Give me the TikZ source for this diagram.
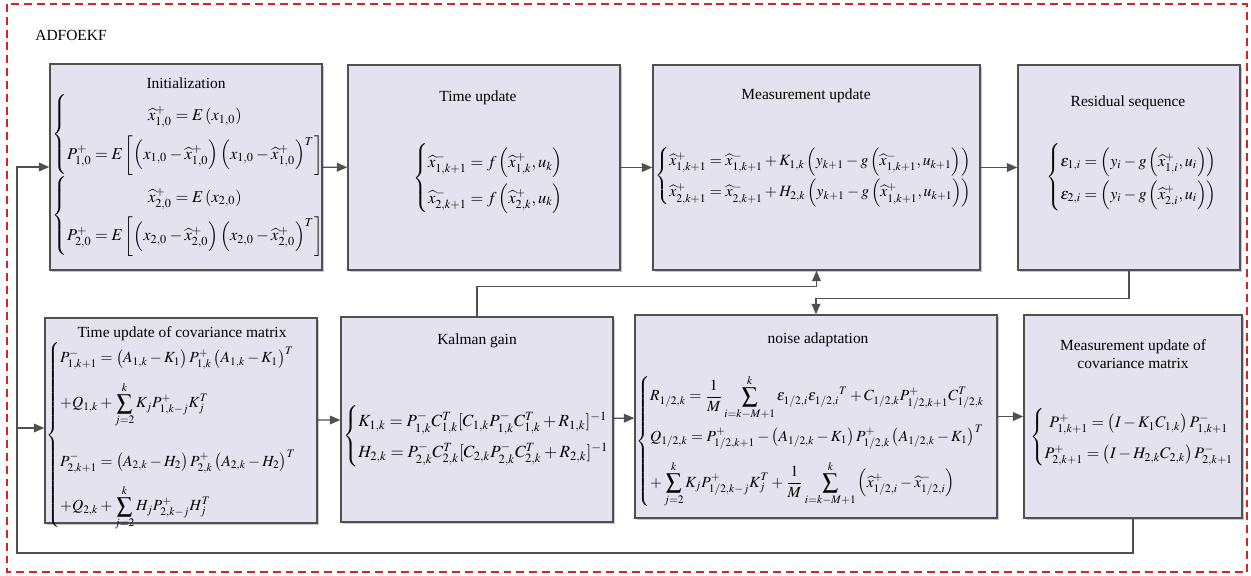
\documentclass[tikz,border=0pt]{standalone}
\usepackage{amsmath}
\usepackage{mathptmx}
\usepackage{fontspec}
\setmainfont{Liberation Serif}
\newfontfamily\boxfont{Liberation Serif}
\usetikzlibrary{arrows.meta, shadows, calc}
\definecolor{boxfill}{RGB}{228,226,238}
\definecolor{boxline}{RGB}{80,80,80}
\definecolor{framered}{RGB}{212,36,36}

\begin{document}
\begin{tikzpicture}[x=0.02cm, y=-0.02cm, font=\boxfont\fontsize{8.8}{10.5}\selectfont,
  >={Triangle[length=6pt, width=5pt]},
  block/.style={draw=boxline, fill=boxfill, line width=0.8pt, inner sep=0pt,
                drop shadow={shadow xshift=1.3pt, shadow yshift=-1.3pt, fill=black!22, opacity=1}},
  title/.style={inner sep=0pt, align=center},
  eqn/.style={inner sep=0pt, anchor=west, font=\fontsize{#1}{11}\selectfont},
  eqn/.default=8.8,
  link/.style={->, draw=boxline, line width=0.8pt}]
  \useasboundingbox (0,0) rectangle (1251,575);
  \draw[framered, line width=1.1pt, dash pattern=on 4.5pt off 2.8pt] (7,4) rectangle (1247,572);
  \node[inner sep=0pt, anchor=west] (name) at (35,35) {ADFOEKF};

  % top row
  \node[block, minimum width=5.44cm, minimum height=4.12cm] (init) at (186,167) {};
  \node[block, minimum width=5.44cm, minimum height=4.1cm] (tupd) at (484,167.5) {};
  \node[block, minimum width=6.54cm, minimum height=4.1cm] (mupd) at (816.5,167.5) {};
  \node[block, minimum width=4.44cm, minimum height=4.1cm] (resid) at (1129,167.5) {};
  % bottom row
  \node[block, minimum width=5.44cm, minimum height=4.1cm] (tcov) at (181,420.5) {};
  \node[block, minimum width=5.44cm, minimum height=4.1cm] (gain) at (477,419.5) {};
  \node[block, minimum width=7.24cm, minimum height=4.06cm] (noise) at (816,416.5) {};
  \node[block, minimum width=4.36cm, minimum height=4.06cm] (mcov) at (1133,416.5) {};

  \node[title] (init-t) at (186,83) {Initialization};
  \node[title] (tupd-t) at (478,98) {Time update};
  \node[title] (mupd-t) at (806,96) {Measurement update};
  \node[title] (resid-t) at (1128,103) {Residual sequence};
  \node[title] (tcov-t) at (182,334) {Time update of covariance matrix};
  \node[title] (gain-t) at (477,341) {Kalman gain};
  \node[title] (noise-t) at (818,340) {noise adaptation};
  \node[title] (mcov-t) at (1133,354) {Measurement update of\\covariance matrix};

  \node[eqn=9.4] (init-e) at (52,175) {$\renewcommand{\arraystretch}{2.0}\begin{array}{@{}l@{}}
    \left\{\begin{array}{@{}c@{}}
      \widehat{x}^{+}_{1,0}=E\left(x_{1,0}\right)\\
      P^{+}_{1,0}=E\left[\left(x_{1,0}-\widehat{x}^{+}_{1,0}\right)\left(x_{1,0}-\widehat{x}^{+}_{1,0}\right)^{T}\right]
    \end{array}\right.\\
    \left\{\begin{array}{@{}c@{}}
      \widehat{x}^{+}_{2,0}=E\left(x_{2,0}\right)\\
      P^{+}_{2,0}=E\left[\left(x_{2,0}-\widehat{x}^{+}_{2,0}\right)\left(x_{2,0}-\widehat{x}^{+}_{2,0}\right)^{T}\right]
    \end{array}\right.
  \end{array}$};
  \node[eqn=9.4] (tupd-e) at (413,178) {$\renewcommand{\arraystretch}{1.85}\left\{\begin{array}{@{}l@{}}
    \widehat{x}^{-}_{1,k+1}=f\left(\widehat{x}^{+}_{1,k},u_{k}\right)\\
    \widehat{x}^{-}_{2,k+1}=f\left(\widehat{x}^{+}_{2,k},u_{k}\right)
  \end{array}\right.$};
  \node[eqn=8.95] (mupd-e) at (655,176) {$\renewcommand{\arraystretch}{1.55}\left\{\begin{array}{@{}l@{}}
    \widehat{x}^{+}_{1,k+1}=\widehat{x}^{-}_{1,k+1}+K_{1,k}\left(y_{k+1}-g\left(\widehat{x}^{-}_{1,k+1},u_{k+1}\right)\right)\\
    \widehat{x}^{+}_{2,k+1}=\widehat{x}^{-}_{2,k+1}+H_{2,k}\left(y_{k+1}-g\left(\widehat{x}^{+}_{1,k+1},u_{k+1}\right)\right)
  \end{array}\right.$};
  \node[eqn=9.15] (resid-e) at (1046,177) {$\renewcommand{\arraystretch}{1.65}\left\{\begin{array}{@{}l@{}}
    \varepsilon_{1,i}=\left(y_{i}-g\left(\widehat{x}^{+}_{1,i},u_{i}\right)\right)\\
    \varepsilon_{2,i}=\left(y_{i}-g\left(\widehat{x}^{+}_{2,i},u_{i}\right)\right)
  \end{array}\right.$};
  \node[eqn] (tcov-e) at (46,435) {$\renewcommand{\arraystretch}{1.75}\left\{\begin{array}{@{}l@{}}
    P^{-}_{1,k+1}=\left(A_{1,k}-K_{1}\right)P^{+}_{1,k}\left(A_{1,k}-K_{1}\right)^{T}\\[5pt]
    +Q_{1,k}+\displaystyle\sum_{j=2}^{k}K_{j}P^{+}_{1,k-j}K_{j}^{T}\\[14pt]
    P^{-}_{2,k+1}=\left(A_{2,k}-H_{2}\right)P^{+}_{2,k}\left(A_{2,k}-H_{2}\right)^{T}\\[5pt]
    +Q_{2,k}+\displaystyle\sum_{j=2}^{k}H_{j}P^{+}_{2,k-j}H_{j}^{T}
  \end{array}\right.$};
  \node[eqn=9.7] (gain-e) at (343,436) {$\renewcommand{\arraystretch}{1.6}\left\{\begin{array}{@{}l@{}}
    K_{1,k}=P^{-}_{1,k}C^{T}_{1,k}[C_{1,k}P^{-}_{1,k}C^{T}_{1,k}+R_{1,k}]^{-1}\\
    H_{2,k}=P^{-}_{2,k}C^{T}_{2,k}[C_{2,k}P^{-}_{2,k}C^{T}_{2,k}+R_{2,k}]^{-1}
  \end{array}\right.$};
  \node[eqn] (noise-e) at (636,441) {$\renewcommand{\arraystretch}{1.35}\left\{\begin{array}{@{}l@{}}
    R_{1/2,k}=\dfrac{1}{M}\displaystyle\sum_{i=k-M+1}^{k}\varepsilon_{1/2,i}\varepsilon_{1/2,i}{}^{T}+C_{1/2,k}P^{+}_{1/2,k+1}C^{T}_{1/2,k}\\[8pt]
    Q_{1/2,k}=P^{+}_{1/2,k+1}-\left(A_{1/2,k}-K_{1}\right)P^{+}_{1/2,k}\left(A_{1/2,k}-K_{1}\right)^{T}\\[7pt]
    +\displaystyle\sum_{j=2}^{k}K_{j}P^{+}_{1/2,k-j}K_{j}^{T}+\dfrac{1}{M}\displaystyle\sum_{i=k-M+1}^{k}\left(\widehat{x}^{+}_{1/2,i}-\widehat{x}^{-}_{1/2,i}\right)
  \end{array}\right.$};
  \node[eqn=9.15] (mcov-e) at (1030,437) {$\renewcommand{\arraystretch}{1.6}\left\{\begin{array}{@{}c@{}}
    P^{+}_{1,k+1}=\left(I-K_{1}C_{1,k}\right)P^{-}_{1,k+1}\\
    P^{+}_{2,k+1}=\left(I-H_{2,k}C_{2,k}\right)P^{-}_{2,k+1}
  \end{array}\right.$};

  % connectors
  \draw[link] (init) -- (tupd);
  \draw[link] (tupd) -- (mupd);
  \draw[link] (mupd) -- (resid);
  \draw[link] (tcov) -- (gain);
  \draw[link] (gain) -- (noise);
  \draw[link] (noise) -- (mcov);
  \draw[link] (gain.north) -- ++(0,-30) -| (mupd.south);
  \draw[link] (resid.south) -- ++(0,28) -| (noise.north);
  \coordinate (fb) at (17,553);
  \coordinate (br) at (17,428);
  \draw[link] (mcov.south) |- (fb) |- (init.west);
  \draw[link] (br) -- (br -| tcov.west);
\end{tikzpicture}
\end{document}
